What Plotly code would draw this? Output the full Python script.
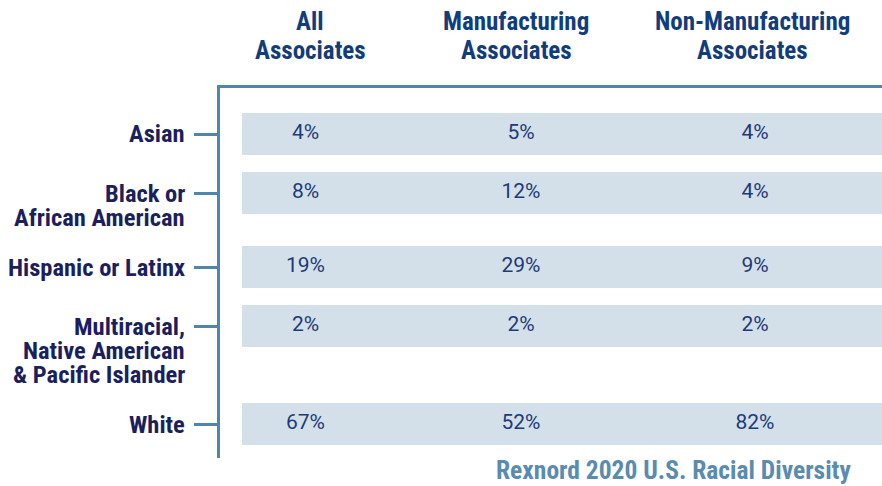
import plotly.graph_objects as go

# ---- data ----
categories = ["Asian", "Black or<br>African American", "Hispanic or Latinx",
              "Multiracial,<br>Native American<br>& Pacific Islander", "White"]
columns = ["All<br>Associates", "Manufacturing<br>Associates", "Non-Manufacturing<br>Associates"]
all_associates = [4, 8, 19, 2, 67]
manufacturing = [5, 12, 29, 2, 52]
non_manufacturing = [4, 4, 9, 2, 82]
footer = "Rexnord 2020 U.S. Racial Diversity"

# ---- layout (pixel-like coordinates) ----
W, H = 882, 486
PLOT_L, PLOT_T, PLOT_B = 220, 88, 458
row_y = [134, 193, 267, 326, 424]
col_x = [305.5, 521, 755]
head_x = [310, 516, 752]
band_left = 242
band_h = 42
line_gap = 24.3

AXIS = "#4f86ae"
BAND = "#d4e0e9"
LABEL = "#1b1f5e"
VALUE = "#1c3b78"
HEAD = "#123d7b"
FOOT = "#5a8bb0"
COND = "Roboto Condensed, Roboto, sans-serif"
REG = "Roboto, sans-serif"


def px(x):
    return (x - PLOT_L) / (W - PLOT_L)


def py(y):
    return (PLOT_B - y) / (PLOT_B - PLOT_T)


fig = go.Figure()

# row bands
fig.add_trace(go.Bar(
    y=row_y, x=[W - band_left] * len(categories), base=[band_left] * len(categories),
    orientation="h", width=band_h, marker=dict(color=BAND, line=dict(width=0)),
    hoverinfo="skip", showlegend=False))

# values
for series, cx in zip([all_associates, manufacturing, non_manufacturing], col_x):
    fig.add_trace(go.Scatter(
        x=[cx] * len(series), y=row_y, mode="text",
        text=[f"{v}%" for v in series],
        textfont=dict(family=REG, size=21, color=VALUE),
        textposition="middle center", hoverinfo="skip", showlegend=False))

annotations = []
# row labels (first line centred on tick)
for cat, ry in zip(categories, row_y):
    for i, line in enumerate(cat.split("<br>")):
        annotations.append(dict(
            x=px(187), y=py(ry + i * line_gap), xref="paper", yref="paper",
            text=f"<b>{line}</b>",
            xanchor="right", yanchor="middle", showarrow=False,
            font=dict(family=COND, size=24.5, color=LABEL)))
# column headers
for col, hx in zip(columns, head_x):
    for i, line in enumerate(col.split("<br>")):
        annotations.append(dict(
            x=px(hx), y=py(21 + i * 30), xref="paper", yref="paper",
            text=f"<b>{line}</b>",
            xanchor="center", yanchor="middle", showarrow=False,
            font=dict(family=COND, size=25, color=HEAD)))
# footer
annotations.append(dict(
    x=px(673), y=py(470), xref="paper", yref="paper", text=f"<b>{footer}</b>",
    xanchor="center", yanchor="middle", showarrow=False,
    font=dict(family=COND, size=25.5, color=FOOT)))

fig.update_layout(
    width=W, height=H,
    margin=dict(l=PLOT_L, r=0, t=PLOT_T, b=H - PLOT_B, pad=0),
    paper_bgcolor="white", plot_bgcolor="white",
    bargap=0,
    annotations=annotations,
    xaxis=dict(range=[PLOT_L, W], showgrid=False, zeroline=False, showticklabels=False,
               ticks="", side="top", showline=True, linecolor=AXIS, linewidth=3,
               fixedrange=True),
    yaxis=dict(range=[PLOT_B, PLOT_T], showgrid=False, zeroline=False,
               tickvals=row_y, ticktext=[""] * len(row_y), ticks="outside",
               ticklen=23, tickwidth=3, tickcolor=AXIS,
               showline=True, linecolor=AXIS, linewidth=3, fixedrange=True),
)

fig.write_html("out.html", config={"displayModeBar": False},
               post_script="document.body.style.margin='0';document.body.style.overflow='hidden';")
